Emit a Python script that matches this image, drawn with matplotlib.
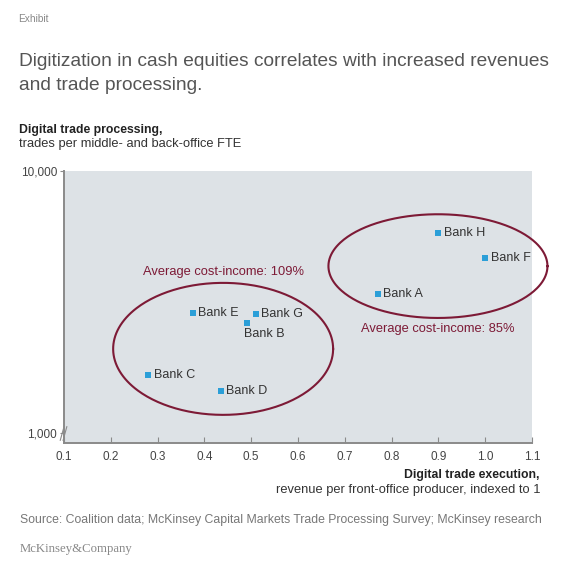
import numpy as np
import matplotlib.pyplot as plt

plt.rcParams['font.family'] = ['Liberation Sans', 'DejaVu Sans']

banks = ['Bank A', 'Bank B', 'Bank C', 'Bank D', 'Bank E', 'Bank F', 'Bank G', 'Bank H']
execution = [0.77, 0.49, 0.28, 0.435, 0.375, 1.0, 0.51, 0.9]
processing = [3390, 2630, 1665, 1447, 2870, 4650, 2850, 5800]

x_ticks = [0.1, 0.2, 0.3, 0.4, 0.5, 0.6, 0.7, 0.8, 0.9, 1.0, 1.1]
y_ticks = [1000, 10000]
y_tick_labels = ['1,000', '10,000']

# cluster ellipses: centre x, centre y, half-width (x units), half-height (decades)
clusters = [(0.44, 2094, 0.235, 0.252, 'Average cost-income: 109%', 0.44, 4100),
            (0.899, 4335, 0.234, 0.198, 'Average cost-income: 85%', 0.899, 2500)]

blue = '#2b9fd8'
maroon = '#7d1a36'
grey_txt = '#555555'

fig = plt.figure(figsize=(5.69, 5.69), dpi=100)
ax = fig.add_axes([0.1125, 0.2214, 0.8225, 0.478])
ax.set_facecolor('#dde2e6')
ax.set_yscale('log')
ax.set_xlim(0.1, 1.1)
ax.set_ylim(915, 10000)

ax.scatter(execution, processing, marker='s', s=14, color=blue, zorder=3, linewidths=0)
for name, xv, yv in zip(banks, execution, processing):
    if name == 'Bank B':
        ax.annotate(name, (xv, yv), xytext=(-2, -8), textcoords='offset points',
                    ha='left', va='center', fontsize=9, color='#333333')
    else:
        ax.annotate(name, (xv, yv), xytext=(4, 0), textcoords='offset points',
                    ha='left', va='center', fontsize=9, color='#333333')

t = np.linspace(0, 2 * np.pi, 300)
for cx, cy, a, b, label, lx, ly in clusters:
    ex = cx + a * np.cos(t)
    ey = 10 ** (np.log10(cy) + b * np.sin(t))
    ax.plot(ex, ey, color=maroon, lw=1.5, clip_on=False, zorder=2)
    ax.text(lx, ly, label, ha='center', va='center', fontsize=9.3, color=maroon)

for s in ['top', 'right']:
    ax.spines[s].set_visible(False)
for s in ['left', 'bottom']:
    ax.spines[s].set_color('#8a8a8a')
    ax.spines[s].set_linewidth(1.4)

ax.set_xticks(x_ticks)
ax.set_xticklabels(['%.1f' % v for v in x_ticks])
ax.tick_params(axis='x', direction='in', length=4, color='#8a8a8a', labelsize=8.5,
               labelcolor='#444444', pad=6)
ax.set_yticks(y_ticks)
ax.set_yticklabels(y_tick_labels)
ax.yaxis.set_minor_locator(plt.NullLocator())
ax.tick_params(axis='y', direction='out', length=3, color='#8a8a8a', labelsize=8.5,
               labelcolor='#444444', pad=2)

# axis break marks
for dx in (-0.004, 0.002):
    ax.plot([dx - 0.004, dx + 0.004], [0.01, 0.06], transform=ax.transAxes,
            color='#8a8a8a', lw=0.8, clip_on=False)

fig.text(18 / 569, 1 - 19 / 569, 'Exhibit', fontsize=7.3, color='#888888', va='center')
fig.text(19 / 569, 1 - 62 / 569,
         'Digitization in cash equities correlates with increased revenues',
         fontsize=13.8, color=grey_txt, va='center')
fig.text(19 / 569, 1 - 86 / 569, 'and trade processing.',
         fontsize=13.8, color=grey_txt, va='center')
fig.text(19 / 569, 1 - 130 / 569, 'Digital trade processing,', fontsize=8.8,
         color='#222222', va='center', fontweight='bold')
fig.text(19 / 569, 1 - 144 / 569, 'trades per middle- and back-office FTE', fontsize=9.3,
         color='#333333', va='center')
fig.text(540 / 569, 1 - 475 / 569, 'Digital trade execution,', fontsize=8.8,
         color='#222222', va='center', ha='right', fontweight='bold')
fig.text(540 / 569, 1 - 490 / 569, 'revenue per front-office producer, indexed to 1',
         fontsize=9.3, color='#333333', va='center', ha='right')
fig.text(20 / 569, 1 - 520 / 569,
         'Source: Coalition data; McKinsey Capital Markets Trade Processing Survey; McKinsey research',
         fontsize=8.8, color='#777777', va='center')
fig.text(20 / 569, 1 - 549 / 569, 'McKinsey&Company', fontsize=9.2, color='#888888',
         va='center', family='Liberation Serif')

fig.savefig('out.png', dpi=100)
